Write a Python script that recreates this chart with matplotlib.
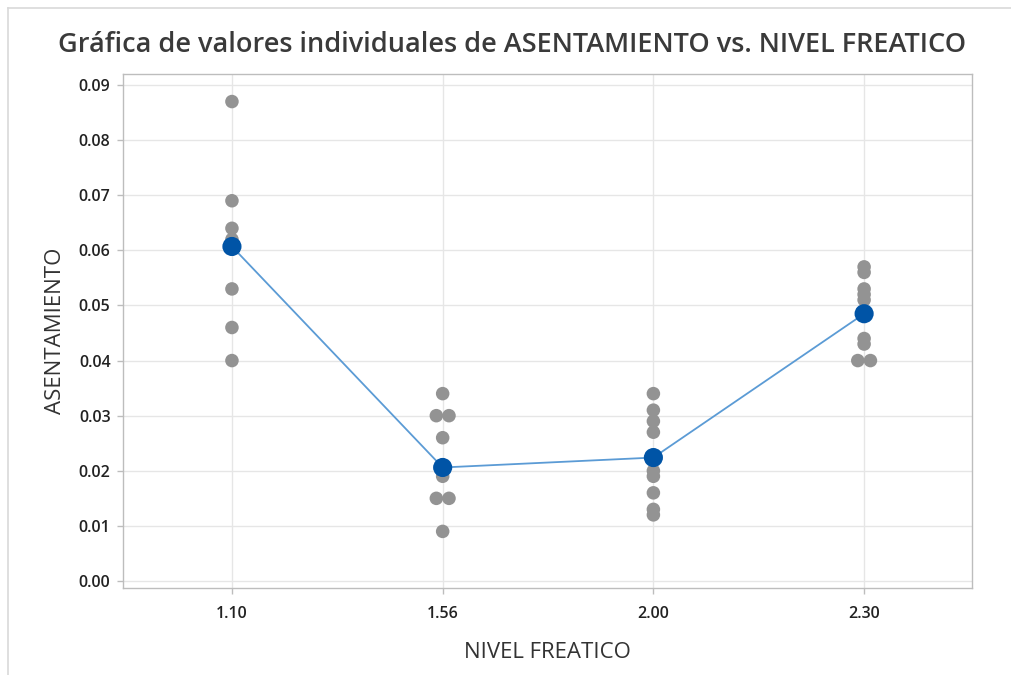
import matplotlib
matplotlib.use("Agg")
import matplotlib.pyplot as plt
from matplotlib.lines import Line2D
import numpy as np

categories = ["1.10", "1.56", "2.00", "2.30"]
values_110 = [0.087, 0.069, 0.064, 0.062, 0.053, 0.046, 0.040]
values_156 = [0.034, 0.030, 0.030, 0.026, 0.019, 0.015, 0.015, 0.009]
values_200 = [0.034, 0.031, 0.029, 0.027, 0.020, 0.019, 0.016, 0.013, 0.012]
values_230 = [0.057, 0.056, 0.053, 0.052, 0.051, 0.044, 0.043, 0.040, 0.040]
means = [0.0607, 0.0206, 0.0224, 0.0485]
yticks = [0.00, 0.01, 0.02, 0.03, 0.04, 0.05, 0.06, 0.07, 0.08, 0.09]

groups = [values_110, values_156, values_200, values_230]

plt.rcParams['font.family'] = ['Open Sans', 'DejaVu Sans']
fig = plt.figure(figsize=(10.11, 6.75), dpi=100)
ax = fig.add_axes([123/1011, 1-588/675, (972-123)/1011, (588-74)/675])

# frame lines of the figure
fig.add_artist(Line2D([8/1011, 1], [1-8/675, 1-8/675], color="#d9d9d9", lw=1.2, transform=fig.transFigure))
fig.add_artist(Line2D([8/1011, 8/1011], [0, 1-8/675], color="#d9d9d9", lw=1.2, transform=fig.transFigure))

gray = "#939393"
for i, vals in enumerate(groups):
    vals = np.array(vals)
    xs = np.full(len(vals), float(i))
    for v in np.unique(vals):
        idx = np.where(vals == v)[0]
        if len(idx) > 1:
            offs = (np.arange(len(idx)) - (len(idx)-1)/2) * 0.06
            xs[idx] = i + offs
    ax.scatter(xs, vals, s=95, color=gray, edgecolors="none", zorder=3)

xpos = np.arange(len(categories))
ax.plot(xpos, means, color="#5b9bd5", lw=1.3, zorder=4)
ax.scatter(xpos, means, s=190, color="#0054a6", edgecolors="none", zorder=5)

ax.set_xlim(-0.517, 3.512)
ax.set_ylim(-0.00127, 0.0920)
ax.set_xticks(xpos)
ax.set_xticklabels(categories)
ax.set_yticks(yticks)
ax.set_yticklabels([f"{t:.2f}" for t in yticks])
ax.grid(True, color="#e6e6e6", lw=1.0, zorder=0)
ax.set_axisbelow(True)
for s in ax.spines.values():
    s.set_color("#bdbdbd")
    s.set_linewidth(1.0)
ax.tick_params(axis="both", colors="#bdbdbd", labelcolor="#222222", labelsize=11.5, length=4, width=1)
for lab in ax.get_xticklabels() + ax.get_yticklabels():
    lab.set_fontweight("semibold")
ax.tick_params(axis="x", pad=9)
ax.tick_params(axis="y", pad=5)

ax.set_xlabel("NIVEL FREATICO", fontsize=16, color="#333333", labelpad=14)
ax.set_ylabel("ASENTAMIENTO", fontsize=16, color="#333333", labelpad=9)
fig.text(512/1011, 1-45/675, "Gráfica de valores individuales de ASENTAMIENTO vs. NIVEL FREATICO",
         ha="center", va="center", fontsize=19.5, fontweight="semibold", color="#3a3a3a")

fig.savefig("out.png", dpi=100)
